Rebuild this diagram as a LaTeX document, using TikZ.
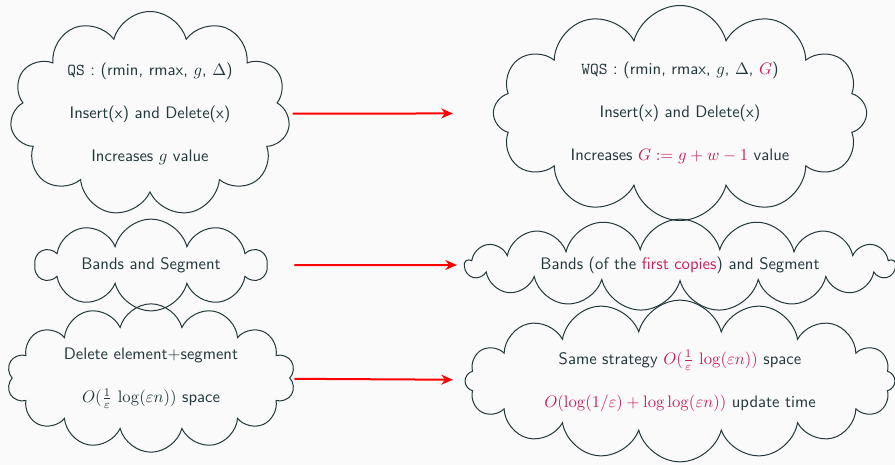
\documentclass[tikz,border=0pt]{standalone}
\usetikzlibrary{shapes.symbols,arrows.meta}
\definecolor{fg}{HTML}{23373B}
\definecolor{bgc}{HTML}{FAFAFA}
\definecolor{al}{HTML}{CC1F55}
\tikzset{
  cl/.style={cloud, draw=fg, line width=0.6pt, cloud ignores aspect, text=fg,
    font=\sffamily, align=center, inner sep=0pt},
  arr/.style={draw=red, line width=1.2pt, -{Stealth[length=7pt,width=6pt]}}
}
\begin{document}
\begin{tikzpicture}[x=0.6pt,y=-0.6pt]
\fill[bgc] (0,0) rectangle (895,465);
\useasboundingbox (0,0) rectangle (895,465);
\node[cl, cloud puffs=11, minimum width=168pt, minimum height=123pt] (c1) at (150,114)
  {\texttt{QS} : (rmin, rmax, $g$, $\Delta$)\\[14pt] Insert(x) and Delete(x)\\[14pt] Increases $g$ value};
\node[cl, cloud puffs=12, minimum width=224pt, minimum height=129pt] (c2) at (680,113)
  {\texttt{WQS} : (rmin, rmax, $g$, $\Delta$, \textcolor{al}{$G$})\\[14pt] Insert(x) and Delete(x)\\[14pt] Increases \textcolor{al}{$G := g+w-1$} value};
\node[cl, cloud puffs=10, minimum width=138pt, minimum height=55pt] (c3) at (151,265)
  {Bands and Segment};
\node[cl, cloud puffs=17, minimum width=258pt, minimum height=55pt] (c4) at (680,265)
  {Bands (of the \textcolor{al}{first copies}) and Segment};
\node[cl, cloud puffs=14, minimum width=173pt, minimum height=89pt] (c5) at (151,378)
  {Delete element+segment\\[14pt] $O(\frac{1}{\varepsilon}\,\log(\varepsilon n))$ space};
\node[cl, cloud puffs=16, minimum width=258pt, minimum height=97pt] (c6) at (680,381)
  {Same strategy \textcolor{al}{$O(\frac{1}{\varepsilon}\,\log(\varepsilon n))$} space\\[14pt] \textcolor{al}{$O(\log(1/\varepsilon)+\log\log(\varepsilon n))$} update time};
\draw[arr, shorten <=3pt, shorten >=24pt] (c1) -- (c2);
\draw[arr, shorten <=16pt, shorten >=4pt] (c3) -- (c4);
\draw[arr, shorten <=2pt, shorten >=7pt] (c5) -- (c6);
\end{tikzpicture}
\end{document}
